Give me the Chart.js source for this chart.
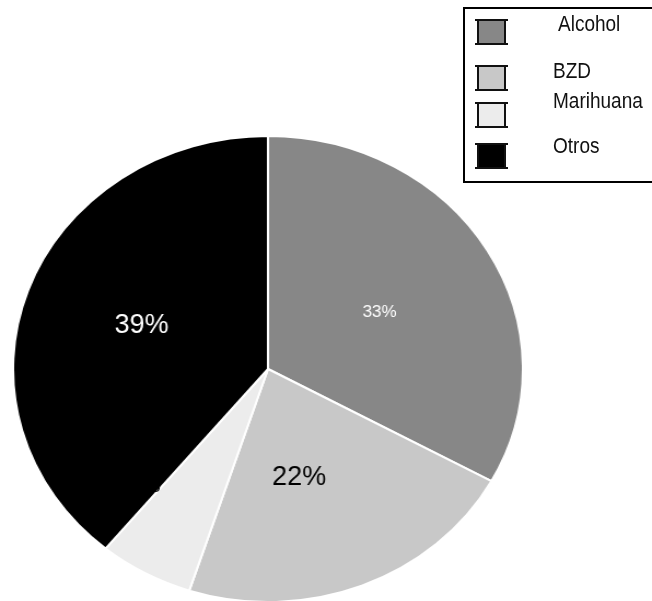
<!DOCTYPE html>
<html>
<head>
<meta charset="utf-8">
<script src="https://cdn.jsdelivr.net/npm/chart.js@4.4.0/dist/chart.umd.min.js"></script>
<style>
  html, body { margin: 0; padding: 0; background: #fff; }
  body { width: 652px; height: 601px; overflow: hidden; position: relative; font-family: "Liberation Sans", Arial, sans-serif; }
  #pieWrap { position: absolute; left: 12px; top: 135px; width: 468px; height: 468px; transform: scaleX(1.094); transform-origin: 0 0; }
  #legend { position: absolute; left: 463px; top: 7px; width: 200px; height: 172px; border: 2px solid #000; box-sizing: content-box; }
  #legend .sw { position: absolute; left: 12px; width: 25px; height: 22px; border: 2px solid #111; }
  #legend .sw::before, #legend .sw::after { content: ""; position: absolute; left: -4px; width: 33px; height: 2px;
    background: linear-gradient(to right, #111 0 4px, transparent 4px 29px, #111 29px 33px); }
  #legend .sw::before { top: -2px; }
  #legend .sw::after { bottom: -2px; }
  #legend .txt { position: absolute; left: 88px; font-size: 19px; color: #111; white-space: nowrap; transform: scaleY(1.12); transform-origin: 0 0; }
</style>
</head>
<body>
<div id="pieWrap"><canvas id="pie" width="468" height="468"></canvas></div>
<div id="legend"></div>
<script>
// datos del gráfico
const categories = ['Alcohol', 'BZD', 'Marihuana', 'Otros'];
const values = [33, 22, 6, 39];
const sliceColors = ['#878787', '#c8c8c8', '#ececec', '#000000'];

const STRETCH = 1.094;

// etiquetas de porcentaje dentro de cada porción
const sliceLabels = {
  id: 'sliceLabels',
  afterDatasetsDraw(chart, args, opts) {
    const ctx = chart.ctx;
    const data = chart.data.datasets[0].data;
    const total = data.reduce((a, b) => a + b, 0);
    chart.getDatasetMeta(0).data.forEach((arc, i) => {
      const st = opts.styles[i];
      const mid = (arc.startAngle + arc.endAngle) / 2 + st.shift;
      const r = arc.outerRadius * st.radius;
      ctx.save();
      ctx.translate(arc.x + Math.cos(mid) * r, arc.y + Math.sin(mid) * r);
      ctx.scale(1 / STRETCH, 1);
      ctx.font = st.size + 'px "Liberation Sans", Arial, sans-serif';
      ctx.fillStyle = st.color;
      ctx.textAlign = 'center';
      ctx.textBaseline = 'middle';
      ctx.fillText(Math.round(data[i] / total * 100) + '%', 0, 0);
      ctx.restore();
    });
  }
};

const chart = new Chart(document.getElementById('pie'), {
  type: 'pie',
  data: {
    labels: categories,
    datasets: [{
      data: values,
      backgroundColor: sliceColors,
      borderColor: '#ffffff',
      borderWidth: 2
    }]
  },
  options: {
    responsive: false,
    animation: false,
    layout: { padding: 0 },
    plugins: {
      legend: { display: false },
      tooltip: { enabled: false },
      sliceLabels: {
        styles: [
          { radius: 0.50, shift: 0.03, size: 17, color: '#ffffff' },
          { radius: 0.48, shift: 0.12, size: 27, color: '#000000' },
          { radius: 0.70, shift: 0.27, size: 24, color: '#000000' },
          { radius: 0.53, shift: 0.014, size: 27, color: '#ffffff' }
        ]
      }
    }
  },
  plugins: [sliceLabels]
});

// leyenda en HTML a partir de los datos del gráfico
const legend = document.getElementById('legend');
const swatchTops = [10, 56, 93, 134];
const textTops = [3, 50, 80, 125];
const textLefts = [93, 88, 88, 88];
chart.data.labels.forEach((label, i) => {
  const sw = document.createElement('div');
  sw.className = 'sw';
  sw.style.top = swatchTops[i] + 'px';
  sw.style.background = chart.data.datasets[0].backgroundColor[i];
  const txt = document.createElement('div');
  txt.className = 'txt';
  txt.style.top = textTops[i] + 'px';
  txt.style.left = textLefts[i] + 'px';
  txt.textContent = label;
  legend.appendChild(sw);
  legend.appendChild(txt);
});
</script>
</body>
</html>
